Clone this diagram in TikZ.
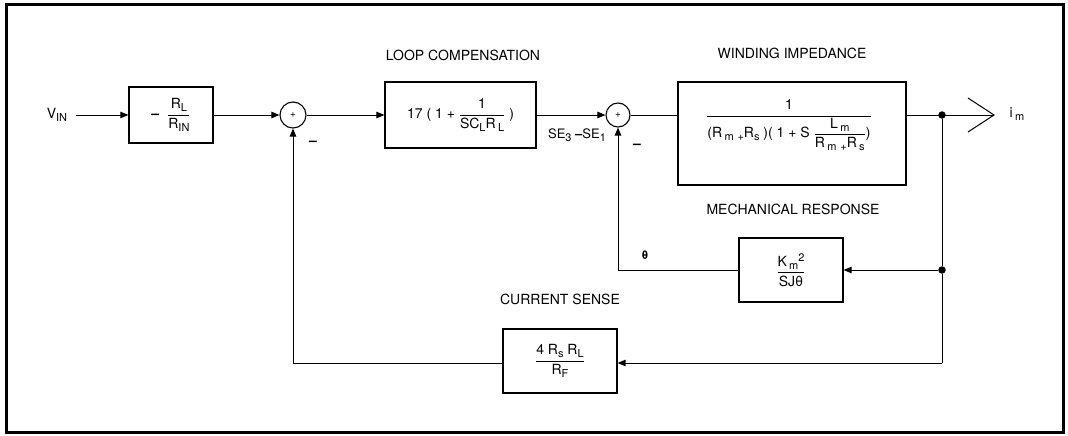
\documentclass[tikz,border=0pt]{standalone}
\usepackage{amsmath}
\usepackage{fontspec}
\setmainfont{TeX Gyre Heros}
\usetikzlibrary{arrows.meta}
\newcommand{\lo}[1]{\raisebox{-3pt}{\fontsize{11}{12}\selectfont #1}}
\newcommand{\hi}[1]{\raisebox{5pt}{\fontsize{11}{12}\selectfont #1}}
\begin{document}
\begin{tikzpicture}[x=1pt,y=-1pt,
  blk/.style={draw, line width=1.2pt, inner sep=0pt, font=\fontsize{14}{16}\selectfont},
  sumn/.style={draw, circle, line width=1.1pt, minimum size=26pt, inner sep=0pt, font=\fontsize{10}{11}\selectfont},
  lbl/.style={font=\fontsize{14}{16}\selectfont, inner sep=0pt},
  sig/.style={line width=1pt},
  arr/.style={sig, -{Triangle[length=8pt,width=6.5pt]}},
  jdot/.style={circle, fill, inner sep=0pt, minimum size=7.5pt},
  neg/.style={font=\fontsize{14}{16}\selectfont\bfseries, inner sep=0pt}]
\useasboundingbox (0,0) rectangle (1068,436);
\draw[line width=3pt] (6,5) rectangle (1063,432);

% labels
\node[lbl] (lc) at (463,55) {LOOP COMPENSATION};
\node[lbl] (wi) at (792,53) {WINDING IMPEDANCE};
\node[lbl] (mr) at (793,209) {MECHANICAL RESPONSE};
\node[lbl] (cs) at (560,299) {CURRENT SENSE};

% input
\node[lbl] (vin) at (57,115) {V\lo{IN}};
\coordinate (vs) at (76,115);

% blocks
\node[blk, minimum width=84pt, minimum height=56pt] (b1) at (171,115)
  {$\text{\bfseries –}\;\;\dfrac{\text{R\lo{L}}}{\text{R\lo{IN}}}$};
\node[sumn] (s1) at (293,115) {+};
\node[blk, minimum width=151pt, minimum height=66pt] (b2) at (460.5,115)
  {$\text{17 ( 1 + }\dfrac{\text{1}}{\text{SC\lo{L}R\,\lo{L}}}\text{\ )}$};
\node[sumn, minimum size=24pt] (s2) at (618,115) {+};
\node[blk, minimum width=228pt, minimum height=103pt] (b3) at (792,133.5) {};
\node[font=\fontsize{14}{16}\selectfont, inner sep=0pt, anchor=base] (f3) at (789,119.5)
  {$\dfrac{\text{1}}{\text{(R\,\lo{m} \lo{+}R\lo{s}\ )( 1 + S\ }\dfrac{\text{L\,\lo{m}}}{\text{R\,\lo{m} \lo{+}R\,\lo{s}}}\text{)}}$};
\node[blk, minimum width=104pt, minimum height=64pt] (b4) at (791,270)
  {$\dfrac{\text{K\,\lo{m}\hi{2}}}{\text{SJθ}}$};
\node[blk, minimum width=114pt, minimum height=64pt] (b5) at (560,361)
  {$\dfrac{\text{4 R\lo{s} R\lo{L}}}{\text{R\lo{F}}}$};

% junctions and corners
\node[jdot] (j1) at (942,115) {};
\node[jdot] (j2) at (942,270) {};
\coordinate (c3) at (942,363);
\coordinate (c4) at (293,363);
\coordinate (c5) at (618,270);
\coordinate (out) at (994,115);

% signal labels
\node[lbl, font=\fontsize{13}{15}\selectfont] (se) at (577,135) {SE\lo{3}\ \textbf{–}SE\lo{1}};
\node[neg] (m1) at (313,143) {–};
\node[neg] (m2) at (637,146) {–};
\node[lbl, font=\fontsize{12}{14}\selectfont\bfseries] (th) at (645,255) {θ};
\node[lbl] (im) at (1017,114) {i\,\lo{m}};

% connectors
\draw[arr] (vs) -- (b1);
\draw[arr] (b1) -- (s1);
\draw[arr] (s1) -- (b2);
\draw[arr] (b2) -- (s2);
\draw[sig] (s2) -- (s2 -| b3.west);
\draw[sig] (b3.east |- s2) -- (out);
\draw[sig] (out) ++(-26,-17) -- (out) -- ++(-26,17);
\draw[sig] (j1) -- (j2) -- (c3);
\draw[arr] (j2) -- (b4);
\draw[arr] (c3) -- (c3 -| b5.east);
\draw[arr] (c3 -| b5.west) -- (c4) -- (s1);
\draw[arr] (b4) -- (c5) -- (s2);
\end{tikzpicture}
\end{document}
